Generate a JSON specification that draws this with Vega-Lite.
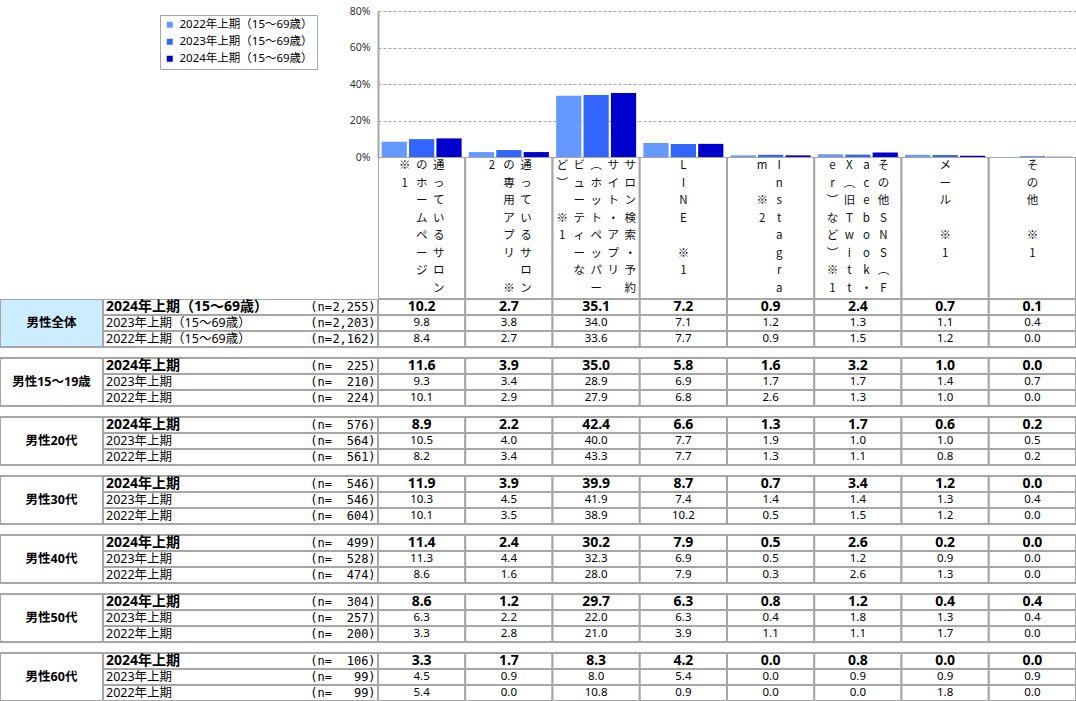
{
  "$schema": "https://vega.github.io/schema/vega-lite/v6.json",
  "padding": 0,
  "autosize": {"type": "pad"},
  "background": "white",
  "config": {
    "view": {"stroke": null},
    "concat": {"spacing": 0},
    "font": "Noto Sans, Noto Sans CJK JP"
  },
  "datasets": {
    "cells": [
      {"group":"男性全体","period":"2024年上期","cat":"サロンのホームページ","value":10.2},
      {"group":"男性全体","period":"2024年上期","cat":"サロンの専用アプリ","value":2.7},
      {"group":"男性全体","period":"2024年上期","cat":"サロン検索・予約サイト・アプリ","value":35.1},
      {"group":"男性全体","period":"2024年上期","cat":"LINE","value":7.2},
      {"group":"男性全体","period":"2024年上期","cat":"Instagram","value":0.9},
      {"group":"男性全体","period":"2024年上期","cat":"その他SNS","value":2.4},
      {"group":"男性全体","period":"2024年上期","cat":"メール","value":0.7},
      {"group":"男性全体","period":"2024年上期","cat":"その他","value":0.1},
      {"group":"男性全体","period":"2023年上期","cat":"サロンのホームページ","value":9.8},
      {"group":"男性全体","period":"2023年上期","cat":"サロンの専用アプリ","value":3.8},
      {"group":"男性全体","period":"2023年上期","cat":"サロン検索・予約サイト・アプリ","value":34.0},
      {"group":"男性全体","period":"2023年上期","cat":"LINE","value":7.1},
      {"group":"男性全体","period":"2023年上期","cat":"Instagram","value":1.2},
      {"group":"男性全体","period":"2023年上期","cat":"その他SNS","value":1.3},
      {"group":"男性全体","period":"2023年上期","cat":"メール","value":1.1},
      {"group":"男性全体","period":"2023年上期","cat":"その他","value":0.4},
      {"group":"男性全体","period":"2022年上期","cat":"サロンのホームページ","value":8.4},
      {"group":"男性全体","period":"2022年上期","cat":"サロンの専用アプリ","value":2.7},
      {"group":"男性全体","period":"2022年上期","cat":"サロン検索・予約サイト・アプリ","value":33.6},
      {"group":"男性全体","period":"2022年上期","cat":"LINE","value":7.7},
      {"group":"男性全体","period":"2022年上期","cat":"Instagram","value":0.9},
      {"group":"男性全体","period":"2022年上期","cat":"その他SNS","value":1.5},
      {"group":"男性全体","period":"2022年上期","cat":"メール","value":1.2},
      {"group":"男性全体","period":"2022年上期","cat":"その他","value":0.0},
      {"group":"男性15～19歳","period":"2024年上期","cat":"サロンのホームページ","value":11.6},
      {"group":"男性15～19歳","period":"2024年上期","cat":"サロンの専用アプリ","value":3.9},
      {"group":"男性15～19歳","period":"2024年上期","cat":"サロン検索・予約サイト・アプリ","value":35.0},
      {"group":"男性15～19歳","period":"2024年上期","cat":"LINE","value":5.8},
      {"group":"男性15～19歳","period":"2024年上期","cat":"Instagram","value":1.6},
      {"group":"男性15～19歳","period":"2024年上期","cat":"その他SNS","value":3.2},
      {"group":"男性15～19歳","period":"2024年上期","cat":"メール","value":1.0},
      {"group":"男性15～19歳","period":"2024年上期","cat":"その他","value":0.0},
      {"group":"男性15～19歳","period":"2023年上期","cat":"サロンのホームページ","value":9.3},
      {"group":"男性15～19歳","period":"2023年上期","cat":"サロンの専用アプリ","value":3.4},
      {"group":"男性15～19歳","period":"2023年上期","cat":"サロン検索・予約サイト・アプリ","value":28.9},
      {"group":"男性15～19歳","period":"2023年上期","cat":"LINE","value":6.9},
      {"group":"男性15～19歳","period":"2023年上期","cat":"Instagram","value":1.7},
      {"group":"男性15～19歳","period":"2023年上期","cat":"その他SNS","value":1.7},
      {"group":"男性15～19歳","period":"2023年上期","cat":"メール","value":1.4},
      {"group":"男性15～19歳","period":"2023年上期","cat":"その他","value":0.7},
      {"group":"男性15～19歳","period":"2022年上期","cat":"サロンのホームページ","value":10.1},
      {"group":"男性15～19歳","period":"2022年上期","cat":"サロンの専用アプリ","value":2.9},
      {"group":"男性15～19歳","period":"2022年上期","cat":"サロン検索・予約サイト・アプリ","value":27.9},
      {"group":"男性15～19歳","period":"2022年上期","cat":"LINE","value":6.8},
      {"group":"男性15～19歳","period":"2022年上期","cat":"Instagram","value":2.6},
      {"group":"男性15～19歳","period":"2022年上期","cat":"その他SNS","value":1.3},
      {"group":"男性15～19歳","period":"2022年上期","cat":"メール","value":1.0},
      {"group":"男性15～19歳","period":"2022年上期","cat":"その他","value":0.0},
      {"group":"男性20代","period":"2024年上期","cat":"サロンのホームページ","value":8.9},
      {"group":"男性20代","period":"2024年上期","cat":"サロンの専用アプリ","value":2.2},
      {"group":"男性20代","period":"2024年上期","cat":"サロン検索・予約サイト・アプリ","value":42.4},
      {"group":"男性20代","period":"2024年上期","cat":"LINE","value":6.6},
      {"group":"男性20代","period":"2024年上期","cat":"Instagram","value":1.3},
      {"group":"男性20代","period":"2024年上期","cat":"その他SNS","value":1.7},
      {"group":"男性20代","period":"2024年上期","cat":"メール","value":0.6},
      {"group":"男性20代","period":"2024年上期","cat":"その他","value":0.2},
      {"group":"男性20代","period":"2023年上期","cat":"サロンのホームページ","value":10.5},
      {"group":"男性20代","period":"2023年上期","cat":"サロンの専用アプリ","value":4.0},
      {"group":"男性20代","period":"2023年上期","cat":"サロン検索・予約サイト・アプリ","value":40.0},
      {"group":"男性20代","period":"2023年上期","cat":"LINE","value":7.7},
      {"group":"男性20代","period":"2023年上期","cat":"Instagram","value":1.9},
      {"group":"男性20代","period":"2023年上期","cat":"その他SNS","value":1.0},
      {"group":"男性20代","period":"2023年上期","cat":"メール","value":1.0},
      {"group":"男性20代","period":"2023年上期","cat":"その他","value":0.5},
      {"group":"男性20代","period":"2022年上期","cat":"サロンのホームページ","value":8.2},
      {"group":"男性20代","period":"2022年上期","cat":"サロンの専用アプリ","value":3.4},
      {"group":"男性20代","period":"2022年上期","cat":"サロン検索・予約サイト・アプリ","value":43.3},
      {"group":"男性20代","period":"2022年上期","cat":"LINE","value":7.7},
      {"group":"男性20代","period":"2022年上期","cat":"Instagram","value":1.3},
      {"group":"男性20代","period":"2022年上期","cat":"その他SNS","value":1.1},
      {"group":"男性20代","period":"2022年上期","cat":"メール","value":0.8},
      {"group":"男性20代","period":"2022年上期","cat":"その他","value":0.2},
      {"group":"男性30代","period":"2024年上期","cat":"サロンのホームページ","value":11.9},
      {"group":"男性30代","period":"2024年上期","cat":"サロンの専用アプリ","value":3.9},
      {"group":"男性30代","period":"2024年上期","cat":"サロン検索・予約サイト・アプリ","value":39.9},
      {"group":"男性30代","period":"2024年上期","cat":"LINE","value":8.7},
      {"group":"男性30代","period":"2024年上期","cat":"Instagram","value":0.7},
      {"group":"男性30代","period":"2024年上期","cat":"その他SNS","value":3.4},
      {"group":"男性30代","period":"2024年上期","cat":"メール","value":1.2},
      {"group":"男性30代","period":"2024年上期","cat":"その他","value":0.0},
      {"group":"男性30代","period":"2023年上期","cat":"サロンのホームページ","value":10.3},
      {"group":"男性30代","period":"2023年上期","cat":"サロンの専用アプリ","value":4.5},
      {"group":"男性30代","period":"2023年上期","cat":"サロン検索・予約サイト・アプリ","value":41.9},
      {"group":"男性30代","period":"2023年上期","cat":"LINE","value":7.4},
      {"group":"男性30代","period":"2023年上期","cat":"Instagram","value":1.4},
      {"group":"男性30代","period":"2023年上期","cat":"その他SNS","value":1.4},
      {"group":"男性30代","period":"2023年上期","cat":"メール","value":1.3},
      {"group":"男性30代","period":"2023年上期","cat":"その他","value":0.4},
      {"group":"男性30代","period":"2022年上期","cat":"サロンのホームページ","value":10.1},
      {"group":"男性30代","period":"2022年上期","cat":"サロンの専用アプリ","value":3.5},
      {"group":"男性30代","period":"2022年上期","cat":"サロン検索・予約サイト・アプリ","value":38.9},
      {"group":"男性30代","period":"2022年上期","cat":"LINE","value":10.2},
      {"group":"男性30代","period":"2022年上期","cat":"Instagram","value":0.5},
      {"group":"男性30代","period":"2022年上期","cat":"その他SNS","value":1.5},
      {"group":"男性30代","period":"2022年上期","cat":"メール","value":1.2},
      {"group":"男性30代","period":"2022年上期","cat":"その他","value":0.0},
      {"group":"男性40代","period":"2024年上期","cat":"サロンのホームページ","value":11.4},
      {"group":"男性40代","period":"2024年上期","cat":"サロンの専用アプリ","value":2.4},
      {"group":"男性40代","period":"2024年上期","cat":"サロン検索・予約サイト・アプリ","value":30.2},
      {"group":"男性40代","period":"2024年上期","cat":"LINE","value":7.9},
      {"group":"男性40代","period":"2024年上期","cat":"Instagram","value":0.5},
      {"group":"男性40代","period":"2024年上期","cat":"その他SNS","value":2.6},
      {"group":"男性40代","period":"2024年上期","cat":"メール","value":0.2},
      {"group":"男性40代","period":"2024年上期","cat":"その他","value":0.0},
      {"group":"男性40代","period":"2023年上期","cat":"サロンのホームページ","value":11.3},
      {"group":"男性40代","period":"2023年上期","cat":"サロンの専用アプリ","value":4.4},
      {"group":"男性40代","period":"2023年上期","cat":"サロン検索・予約サイト・アプリ","value":32.3},
      {"group":"男性40代","period":"2023年上期","cat":"LINE","value":6.9},
      {"group":"男性40代","period":"2023年上期","cat":"Instagram","value":0.5},
      {"group":"男性40代","period":"2023年上期","cat":"その他SNS","value":1.2},
      {"group":"男性40代","period":"2023年上期","cat":"メール","value":0.9},
      {"group":"男性40代","period":"2023年上期","cat":"その他","value":0.0},
      {"group":"男性40代","period":"2022年上期","cat":"サロンのホームページ","value":8.6},
      {"group":"男性40代","period":"2022年上期","cat":"サロンの専用アプリ","value":1.6},
      {"group":"男性40代","period":"2022年上期","cat":"サロン検索・予約サイト・アプリ","value":28.0},
      {"group":"男性40代","period":"2022年上期","cat":"LINE","value":7.9},
      {"group":"男性40代","period":"2022年上期","cat":"Instagram","value":0.3},
      {"group":"男性40代","period":"2022年上期","cat":"その他SNS","value":2.6},
      {"group":"男性40代","period":"2022年上期","cat":"メール","value":1.3},
      {"group":"男性40代","period":"2022年上期","cat":"その他","value":0.0},
      {"group":"男性50代","period":"2024年上期","cat":"サロンのホームページ","value":8.6},
      {"group":"男性50代","period":"2024年上期","cat":"サロンの専用アプリ","value":1.2},
      {"group":"男性50代","period":"2024年上期","cat":"サロン検索・予約サイト・アプリ","value":29.7},
      {"group":"男性50代","period":"2024年上期","cat":"LINE","value":6.3},
      {"group":"男性50代","period":"2024年上期","cat":"Instagram","value":0.8},
      {"group":"男性50代","period":"2024年上期","cat":"その他SNS","value":1.2},
      {"group":"男性50代","period":"2024年上期","cat":"メール","value":0.4},
      {"group":"男性50代","period":"2024年上期","cat":"その他","value":0.4},
      {"group":"男性50代","period":"2023年上期","cat":"サロンのホームページ","value":6.3},
      {"group":"男性50代","period":"2023年上期","cat":"サロンの専用アプリ","value":2.2},
      {"group":"男性50代","period":"2023年上期","cat":"サロン検索・予約サイト・アプリ","value":22.0},
      {"group":"男性50代","period":"2023年上期","cat":"LINE","value":6.3},
      {"group":"男性50代","period":"2023年上期","cat":"Instagram","value":0.4},
      {"group":"男性50代","period":"2023年上期","cat":"その他SNS","value":1.8},
      {"group":"男性50代","period":"2023年上期","cat":"メール","value":1.3},
      {"group":"男性50代","period":"2023年上期","cat":"その他","value":0.4},
      {"group":"男性50代","period":"2022年上期","cat":"サロンのホームページ","value":3.3},
      {"group":"男性50代","period":"2022年上期","cat":"サロンの専用アプリ","value":2.8},
      {"group":"男性50代","period":"2022年上期","cat":"サロン検索・予約サイト・アプリ","value":21.0},
      {"group":"男性50代","period":"2022年上期","cat":"LINE","value":3.9},
      {"group":"男性50代","period":"2022年上期","cat":"Instagram","value":1.1},
      {"group":"男性50代","period":"2022年上期","cat":"その他SNS","value":1.1},
      {"group":"男性50代","period":"2022年上期","cat":"メール","value":1.7},
      {"group":"男性50代","period":"2022年上期","cat":"その他","value":0.0},
      {"group":"男性60代","period":"2024年上期","cat":"サロンのホームページ","value":3.3},
      {"group":"男性60代","period":"2024年上期","cat":"サロンの専用アプリ","value":1.7},
      {"group":"男性60代","period":"2024年上期","cat":"サロン検索・予約サイト・アプリ","value":8.3},
      {"group":"男性60代","period":"2024年上期","cat":"LINE","value":4.2},
      {"group":"男性60代","period":"2024年上期","cat":"Instagram","value":0.0},
      {"group":"男性60代","period":"2024年上期","cat":"その他SNS","value":0.8},
      {"group":"男性60代","period":"2024年上期","cat":"メール","value":0.0},
      {"group":"男性60代","period":"2024年上期","cat":"その他","value":0.0},
      {"group":"男性60代","period":"2023年上期","cat":"サロンのホームページ","value":4.5},
      {"group":"男性60代","period":"2023年上期","cat":"サロンの専用アプリ","value":0.9},
      {"group":"男性60代","period":"2023年上期","cat":"サロン検索・予約サイト・アプリ","value":8.0},
      {"group":"男性60代","period":"2023年上期","cat":"LINE","value":5.4},
      {"group":"男性60代","period":"2023年上期","cat":"Instagram","value":0.0},
      {"group":"男性60代","period":"2023年上期","cat":"その他SNS","value":0.9},
      {"group":"男性60代","period":"2023年上期","cat":"メール","value":0.9},
      {"group":"男性60代","period":"2023年上期","cat":"その他","value":0.9},
      {"group":"男性60代","period":"2022年上期","cat":"サロンのホームページ","value":5.4},
      {"group":"男性60代","period":"2022年上期","cat":"サロンの専用アプリ","value":0.0},
      {"group":"男性60代","period":"2022年上期","cat":"サロン検索・予約サイト・アプリ","value":10.8},
      {"group":"男性60代","period":"2022年上期","cat":"LINE","value":0.9},
      {"group":"男性60代","period":"2022年上期","cat":"Instagram","value":0.0},
      {"group":"男性60代","period":"2022年上期","cat":"その他SNS","value":0.0},
      {"group":"男性60代","period":"2022年上期","cat":"メール","value":1.8},
      {"group":"男性60代","period":"2022年上期","cat":"その他","value":0.0}
    ],
    "rows": [
      {"group":"男性全体","period":"2024年上期","label":"2024年上期（15～69歳）","n":2255},
      {"group":"男性全体","period":"2023年上期","label":"2023年上期（15～69歳）","n":2203},
      {"group":"男性全体","period":"2022年上期","label":"2022年上期（15～69歳）","n":2162},
      {"group":"男性15～19歳","period":"2024年上期","label":"2024年上期","n":225},
      {"group":"男性15～19歳","period":"2023年上期","label":"2023年上期","n":210},
      {"group":"男性15～19歳","period":"2022年上期","label":"2022年上期","n":224},
      {"group":"男性20代","period":"2024年上期","label":"2024年上期","n":576},
      {"group":"男性20代","period":"2023年上期","label":"2023年上期","n":564},
      {"group":"男性20代","period":"2022年上期","label":"2022年上期","n":561},
      {"group":"男性30代","period":"2024年上期","label":"2024年上期","n":546},
      {"group":"男性30代","period":"2023年上期","label":"2023年上期","n":546},
      {"group":"男性30代","period":"2022年上期","label":"2022年上期","n":604},
      {"group":"男性40代","period":"2024年上期","label":"2024年上期","n":499},
      {"group":"男性40代","period":"2023年上期","label":"2023年上期","n":528},
      {"group":"男性40代","period":"2022年上期","label":"2022年上期","n":474},
      {"group":"男性50代","period":"2024年上期","label":"2024年上期","n":304},
      {"group":"男性50代","period":"2023年上期","label":"2023年上期","n":257},
      {"group":"男性50代","period":"2022年上期","label":"2022年上期","n":200},
      {"group":"男性60代","period":"2024年上期","label":"2024年上期","n":106},
      {"group":"男性60代","period":"2023年上期","label":"2023年上期","n":99},
      {"group":"男性60代","period":"2022年上期","label":"2022年上期","n":99}
    ],
    "header": [
      {"cat":"サロンのホームページ","col":0,"ncols":3,"text":"通\nっ\nて\nい\nる\nサ\nロ\nン"},
      {"cat":"サロンのホームページ","col":1,"ncols":3,"text":"の\nホ\nー\nム\nペ\nー\nジ"},
      {"cat":"サロンのホームページ","col":2,"ncols":3,"text":"※\n1"},
      {"cat":"サロンの専用アプリ","col":0,"ncols":3,"text":"通\nっ\nて\nい\nる\nサ\nロ\nン"},
      {"cat":"サロンの専用アプリ","col":1,"ncols":3,"text":"の\n専\n用\nア\nプ\nリ\n⠀\n※"},
      {"cat":"サロンの専用アプリ","col":2,"ncols":3,"text":"2"},
      {"cat":"サロン検索・予約サイト・アプリ","col":0,"ncols":5,"text":"サ\nロ\nン\n検\n索\n・\n予\n約"},
      {"cat":"サロン検索・予約サイト・アプリ","col":1,"ncols":5,"text":"サ\nイ\nト\n・\nア\nプ\nリ"},
      {"cat":"サロン検索・予約サイト・アプリ","col":2,"ncols":5,"text":"︵\nホ\nッ\nト\nペ\nッ\nパ\nー"},
      {"cat":"サロン検索・予約サイト・アプリ","col":3,"ncols":5,"text":"ビ\nュ\nー\nテ\nィ\nー\nな"},
      {"cat":"サロン検索・予約サイト・アプリ","col":4,"ncols":5,"text":"ど\n︶\n⠀\n※\n1"},
      {"cat":"LINE","col":0,"ncols":1,"text":"L\nI\nN\nE\n⠀\n※\n1"},
      {"cat":"Instagram","col":0,"ncols":2,"text":"I\nn\ns\nt\na\ng\nr\na"},
      {"cat":"Instagram","col":1,"ncols":2,"text":"m\n⠀\n※\n2"},
      {"cat":"その他SNS","col":0,"ncols":4,"text":"そ\nの\n他\nS\nN\nS\n︵\nF"},
      {"cat":"その他SNS","col":1,"ncols":4,"text":"a\nc\ne\nb\no\no\nk\n・"},
      {"cat":"その他SNS","col":2,"ncols":4,"text":"X\n︵\n旧\nT\nw\ni\nt\nt"},
      {"cat":"その他SNS","col":3,"ncols":4,"text":"e\nr\n︶\nな\nど\n︶\n※\n1"},
      {"cat":"メール","col":0,"ncols":1,"text":"メ\nー\nル\n⠀\n※\n1"},
      {"cat":"その他","col":0,"ncols":1,"text":"そ\nの\n他\n⠀\n※\n1"}
    ]
  },
  "columns": 3,
  "spacing": 0,
  "bounds": "flush",
  "align": "each",
  "concat": [
    {"width": 103, "height": 10, "data": {"values": [{}]}, "mark": {"type": "text", "text": ""}, "encoding": {}},
    {"width": 275, "height": 10, "data": {"values": [{}]}, "mark": {"type": "text", "text": ""}, "encoding": {}},
    {"width": 698, "height": 10, "data": {"values": [{}]}, "mark": {"type": "text", "text": ""}, "encoding": {}},

    {"width": 103, "height": 146, "data": {"values": [{}]}, "mark": {"type": "text", "text": ""}, "encoding": {}},
    {"width": 275, "height": 146, "data": {"values": [{}]}, "mark": {"type": "text", "text": ""}, "encoding": {}},
    {
      "width": 698, "height": 146,
      "data": {"name": "cells"},
      "transform": [{"filter": "datum.group === '男性全体'"}],
      "mark": {"type": "bar"},
      "encoding": {
        "x": {"field": "cat", "type": "nominal", "sort": null,
              "scale": {"domain": ["サロンのホームページ","サロンの専用アプリ","サロン検索・予約サイト・アプリ","LINE","Instagram","その他SNS","メール","その他"], "paddingInner": 0.083, "paddingOuter": 0.0415},
              "axis": null},
        "xOffset": {"field": "period", "type": "nominal",
              "scale": {"domain": ["2022年上期","2023年上期","2024年上期"], "paddingInner": 0.08, "paddingOuter": 0}},
        "y": {"field": "value", "type": "quantitative",
              "scale": {"domain": [0, 80], "nice": false},
              "axis": {"values": [0,20,40,60,80], "labelExpr": "datum.value + '%'", "title": null,
                       "grid": true, "gridDash": [3,2], "gridColor": "#A6A6A6", "gridWidth": 1,
                       "domainColor": "#A6A6A6", "domainWidth": 2, "ticks": false,
                       "labelFontSize": 10.5, "labelColor": "#333", "labelPadding": 8, "labelFont": "Noto Sans"}},
        "color": {"field": "period", "type": "nominal",
              "scale": {"domain": ["2022年上期","2023年上期","2024年上期"], "range": ["#6699FF","#3366FF","#0000CC"]},
              "legend": {"orient": "none", "legendX": 160, "legendY": 14, "title": null,
                         "labelExpr": "datum.label + '（15～69歳）'",
                         "symbolType": "square", "symbolSize": 36, "symbolStrokeWidth": 0,
                         "labelFontSize": 11.5, "labelColor": "#000", "labelLimit": 400,
                         "strokeColor": "#A6A6A6", "fillColor": "#ffffff", "padding": 4, "rowPadding": 4, "labelOffset": 4}}
      }
    },

    {"width": 103, "height": 142, "data": {"values": [{}]}, "mark": {"type": "text", "text": ""}, "encoding": {}},
    {"width": 275, "height": 142, "data": {"values": [{}]}, "mark": {"type": "text", "text": ""}, "encoding": {}},
    {
      "width": 698, "height": 142,
      "layer": [
        {
          "data": {"name": "cells"},
          "transform": [{"filter": "datum.group === '男性全体' && datum.period === '2024年上期'"}],
          "mark": {"type": "rect", "fill": "white", "stroke": "#A6A6A6", "strokeWidth": 2, "clip": true},
          "encoding": {
            "x": {"field": "cat", "type": "nominal", "sort": null,
                  "scale": {"type": "band", "domain": ["サロンのホームページ","サロンの専用アプリ","サロン検索・予約サイト・アプリ","LINE","Instagram","その他SNS","メール","その他"], "paddingInner": 0, "paddingOuter": 0},
                  "axis": null}
          }
        },
        {
          "data": {"name": "header"},
          "mark": {"type": "text", "baseline": "top", "lineBreak": "\n", "lineHeight": 17.5, "fontSize": 11.5,
                   "font": "Noto Sans CJK JP, DejaVu Sans", "color": "#111", "dy": 3,
                   "dx": {"expr": "((datum.ncols - 1) / 2 - datum.col) * 17"}},
          "encoding": {
            "x": {"field": "cat", "type": "nominal", "sort": null,
                  "scale": {"type": "band", "domain": ["サロンのホームページ","サロンの専用アプリ","サロン検索・予約サイト・アプリ","LINE","Instagram","その他SNS","メール","その他"], "paddingInner": 0, "paddingOuter": 0},
                  "axis": null},
            "y": {"datum": "header", "type": "nominal", "bandPosition": 0,
                  "scale": {"type": "band", "paddingInner": 0, "paddingOuter": 0}, "axis": null},
            "text": {"field": "text"}
          }
        }
      ]
    },

    {
      "width": 103, "height": 402,
      "data": {"name": "rows"},
      "transform": [{"filter": "datum.period === '2024年上期'"}],
      "encoding": {
        "y": {"field": "group", "type": "nominal", "sort": null,
              "scale": {"type": "band", "domain": ["男性全体","男性15～19歳","男性20代","男性30代","男性40代","男性50代","男性60代"], "paddingInner": 0.1864, "paddingOuter": 0},
              "axis": null}
      },
      "layer": [
        {
          "mark": {"type": "rect", "stroke": "#A6A6A6", "strokeWidth": 2, "clip": true},
          "encoding": {
            "fill": {"condition": {"test": "datum.group === '男性全体'", "value": "#CCECFF"}, "value": "#ffffff"}
          }
        },
        {
          "mark": {"type": "text", "fontSize": 12.5, "fontWeight": "bold", "color": "#000"},
          "encoding": {"text": {"field": "group"}}
        }
      ]
    },
    {
      "width": 275, "height": 402,
      "data": {"name": "rows"},
      "encoding": {
        "y": {"field": "group", "type": "nominal", "sort": null,
              "scale": {"type": "band", "domain": ["男性全体","男性15～19歳","男性20代","男性30代","男性40代","男性50代","男性60代"], "paddingInner": 0.1864, "paddingOuter": 0},
              "axis": null},
        "yOffset": {"field": "period", "type": "nominal",
              "scale": {"domain": ["2024年上期","2023年上期","2022年上期"], "paddingInner": 0, "paddingOuter": 0}}
      },
      "layer": [
        {"mark": {"type": "rect", "fill": "#ffffff", "stroke": "#A6A6A6", "strokeWidth": 2, "clip": true}},
        {
          "transform": [{"filter": "datum.period === '2024年上期'"}],
          "mark": {"type": "text", "align": "left", "dx": 3, "fontSize": 14, "fontWeight": "bold", "color": "#000"},
          "encoding": {
            "x": {"datum": "label", "type": "nominal", "bandPosition": 0,
                  "scale": {"type": "band", "domain": ["label","n"], "paddingInner": 0, "paddingOuter": 0}, "axis": null},
            "text": {"field": "label"}
          }
        },
        {
          "transform": [{"filter": "datum.period !== '2024年上期'"}],
          "mark": {"type": "text", "align": "left", "dx": 3, "fontSize": 12.5, "color": "#000"},
          "encoding": {
            "x": {"datum": "label", "type": "nominal", "bandPosition": 0,
                  "scale": {"type": "band", "domain": ["label","n"], "paddingInner": 0, "paddingOuter": 0}, "axis": null},
            "text": {"field": "label"}
          }
        },
        {
          "mark": {"type": "text", "align": "left", "dx": 1, "fontSize": 12, "color": "#000", "font": "DejaVu Sans Mono"},
          "encoding": {
            "x": {"datum": "n", "type": "nominal", "bandPosition": 0.5,
                  "scale": {"type": "band", "domain": ["label","n"], "paddingInner": 0, "paddingOuter": 0}, "axis": null},
            "text": {"value": "(n="}
          }
        },
        {
          "mark": {"type": "text", "align": "right", "dx": -9.5, "fontSize": 12, "color": "#000", "font": "DejaVu Sans Mono"},
          "encoding": {
            "x": {"datum": "n", "type": "nominal", "bandPosition": 1,
                  "scale": {"type": "band", "domain": ["label","n"], "paddingInner": 0, "paddingOuter": 0}, "axis": null},
            "text": {"field": "n", "format": ","}
          }
        },
        {
          "mark": {"type": "text", "align": "right", "dx": -2.5, "fontSize": 12, "color": "#000", "font": "DejaVu Sans Mono"},
          "encoding": {
            "x": {"datum": "n", "type": "nominal", "bandPosition": 1,
                  "scale": {"type": "band", "domain": ["label","n"], "paddingInner": 0, "paddingOuter": 0}, "axis": null},
            "text": {"value": ")"}
          }
        }
      ]
    },
    {
      "width": 698, "height": 402,
      "data": {"name": "cells"},
      "encoding": {
        "x": {"field": "cat", "type": "nominal", "sort": null,
              "scale": {"type": "band", "domain": ["サロンのホームページ","サロンの専用アプリ","サロン検索・予約サイト・アプリ","LINE","Instagram","その他SNS","メール","その他"], "paddingInner": 0, "paddingOuter": 0},
              "axis": null},
        "y": {"field": "group", "type": "nominal", "sort": null,
              "scale": {"type": "band", "domain": ["男性全体","男性15～19歳","男性20代","男性30代","男性40代","男性50代","男性60代"], "paddingInner": 0.1864, "paddingOuter": 0},
              "axis": null},
        "yOffset": {"field": "period", "type": "nominal",
              "scale": {"domain": ["2024年上期","2023年上期","2022年上期"], "paddingInner": 0, "paddingOuter": 0}}
      },
      "layer": [
        {"mark": {"type": "rect", "fill": "#ffffff", "stroke": "#A6A6A6", "strokeWidth": 2, "clip": true}},
        {
          "transform": [{"filter": "datum.period === '2024年上期'"}],
          "mark": {"type": "text", "fontSize": 14, "fontWeight": "bold", "color": "#000", "font": "Noto Sans"},
          "encoding": {"text": {"field": "value", "type": "quantitative", "format": ".1f"}}
        },
        {
          "transform": [{"filter": "datum.period !== '2024年上期'"}],
          "mark": {"type": "text", "fontSize": 11.5, "color": "#000", "font": "Noto Sans"},
          "encoding": {"text": {"field": "value", "type": "quantitative", "format": ".1f"}}
        }
      ]
    }
  ]
}
